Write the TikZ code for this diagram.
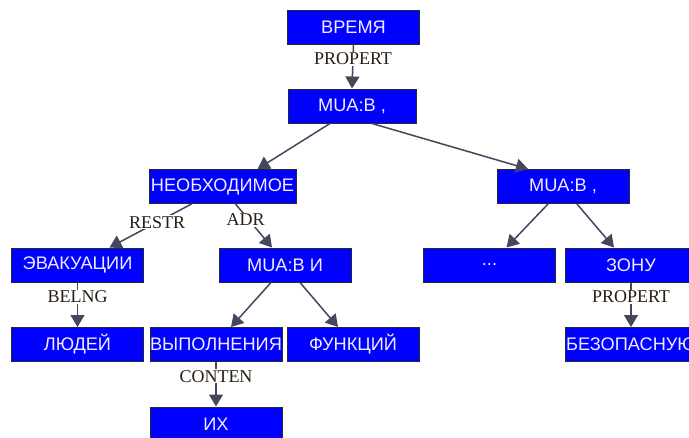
\documentclass[tikz,border=0pt]{standalone}
\usepackage{fontspec}
\setmainfont{Liberation Serif}
\newfontfamily\boxfont{Liberation Sans}
\usetikzlibrary{arrows.meta}
\definecolor{boxblue}{RGB}{0,0,255}
\definecolor{boxline}{RGB}{40,40,50}
\definecolor{edgecol}{RGB}{70,70,92}
\definecolor{lbltext}{RGB}{40,30,20}
\definecolor{boxtext}{RGB}{240,236,255}
\tikzset{
  cbox/.style={draw=boxline, line width=1pt, fill=boxblue, minimum width=132pt, minimum height=34pt,
    inner sep=0pt, text=boxtext, font=\boxfont\fontsize{18.2}{18}\selectfont},
  conn/.style={draw=edgecol, line width=1.5pt, -{Triangle[width=14pt,length=12pt]}},
  elbl/.style={fill=white, inner sep=1pt, text=lbltext, font=\fontsize{18}{18}\selectfont}
}
\begin{document}
\begin{tikzpicture}[x=1pt,y=-1pt]
\useasboundingbox (0,0) rectangle (689,437);
\clip (0,0) rectangle (689,437);
\fill[white] (0,0) rectangle (689,437);

\node[cbox] (t1) at (353.5,27) {ВРЕМЯ};
\node[cbox, minimum width=128pt] (t2) at (352,106) {MUA:B ,};
\node[cbox, minimum width=147pt] (n) at (222.5,186.5) {НЕОБХОДИМОЕ};
\node[cbox] (r) at (563,186.5) {MUA:B ,};
\node[cbox] (e) at (77.5,265) {ЭВАКУАЦИИ};
\node[cbox] (m) at (285,265) {MUA:B И};
\node[cbox] (d) at (489.5,265) {...};
\node[cbox] (z) at (631,265) {ЗОНУ};
\node[cbox] (l) at (77.5,344.5) {ЛЮДЕЙ};
\node[cbox] (v) at (216,344.5) {ВЫПОЛНЕНИЯ};
\node[cbox] (f) at (353,344.5) {ФУНКЦИЙ};
\node[cbox] (b) at (631,344.5) {БЕЗОПАСНУЮ};
\node[cbox] (i) at (216,424) {ИХ};

\draw[conn] (t1.south) -- node[elbl, pos=0.32] {PROPERT} (t2.north);
\draw[conn] ([xshift=-22pt]t2.south) -- ([xshift=35pt]n.north);
\draw[conn] ([xshift=20pt]t2.south) -- ([xshift=-35pt]r.north);
\draw[conn] ([xshift=-31pt]n.south) -- node[elbl, pos=0.42] {RESTR} ([xshift=32pt]e.north);
\draw[conn] ([xshift=13pt]n.south) -- node[elbl, pos=0.36, xshift=-3pt] {ADR} ([xshift=-13pt]m.north);
\draw[conn] (e.south) -- node[elbl, pos=0.32] {BELNG} (l.north);
\draw[conn] ([xshift=-14pt]m.south) -- ([xshift=15pt]v.north);
\draw[conn] ([xshift=15pt]m.south) -- ([xshift=-15pt]f.north);
\draw[conn] (v.south) -- node[elbl, pos=0.32] {CONTEN} (i.north);
\draw[conn] ([xshift=-15pt]r.south) -- ([xshift=17pt]d.north);
\draw[conn] ([xshift=14pt]r.south) -- ([xshift=-17pt]z.north);
\draw[conn] (z.south) -- node[elbl, pos=0.32] {PROPERT} (b.north);
\end{tikzpicture}
\end{document}
